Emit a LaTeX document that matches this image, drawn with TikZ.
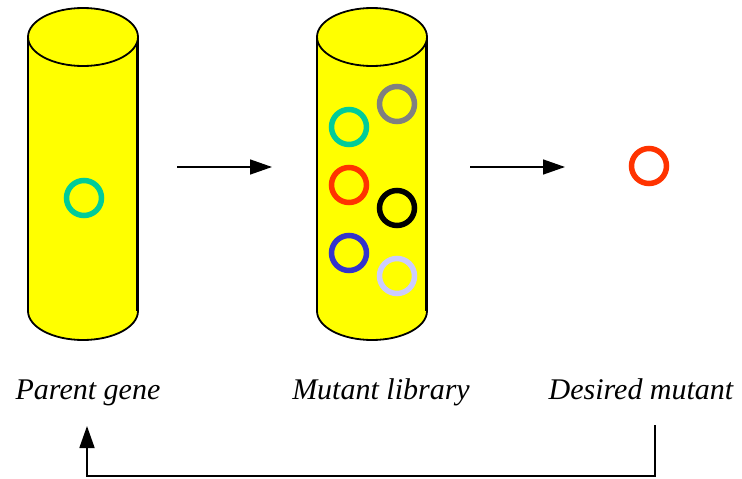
\documentclass[tikz,border=0pt]{standalone}
\usepackage{fontspec}
\setmainfont{Liberation Serif}
\usetikzlibrary{arrows.meta}
\definecolor{cyl}{HTML}{FFFF00}
\definecolor{cteal}{HTML}{00CC99}
\definecolor{cgray}{HTML}{808080}
\definecolor{cred}{HTML}{FF3300}
\definecolor{cblue}{HTML}{3333CC}
\definecolor{clav}{HTML}{CCCCFF}
\tikzset{
  ring/.style={circle, draw=#1, line width=5.5pt, minimum size=35pt, inner sep=0pt},
  lbl/.style={font=\itshape\fontsize{30}{30}\selectfont, anchor=base, inner sep=0pt},
  flow/.style={line width=1.5pt, -{Triangle[length=22pt,width=15pt]}},
  loop/.style={line width=1.8pt, -{Triangle[length=22pt,width=15pt]}},
  cylfill/.style={fill=cyl},
  cylline/.style={line width=1.8pt, draw=black},
}
\newcommand{\mycyl}[1]{%
  \path[cylfill] (#1-55,37) -- (#1-55,311) arc (180:360:55pt and 29pt) -- (#1+55,37) -- cycle;
  \draw[cylline] (#1-55,37) -- (#1-55,311) arc (180:360:55pt and 29pt);
  \draw[line width=3pt] (#1+54,37) -- (#1+54,311);
  \draw[cylline, fill=cyl] (#1,37) ellipse (55pt and 29pt);
}
\begin{document}
\begin{tikzpicture}[x=1pt,y=-1pt]
\useasboundingbox (0,0) rectangle (742,479);
\mycyl{83}
\mycyl{372}
\node[ring=cteal] (p1) at (84,198) {};
\node[ring=cgray] (m1) at (397,104) {};
\node[ring=cteal] (m2) at (349,127) {};
\node[ring=cred] (m3) at (349,185) {};
\node[ring=black] (m4) at (397,208) {};
\node[ring=cblue] (m5) at (349,253) {};
\node[ring=clav] (m6) at (397,276) {};
\node[ring=cred] (d1) at (649,166) {};
\coordinate (a1s) at (177,167);
\coordinate (a1e) at (272,167);
\coordinate (a2s) at (470,167);
\coordinate (a2e) at (565,167);
\draw[flow] (a1s) -- (a1e);
\draw[flow] (a2s) -- (a2e);
\node[lbl] (lp) at (88,399) {Parent gene};
\node[lbl] (lm) at (381,399) {Mutant library};
\node[lbl] (ld) at (641,399) {Desired mutant};
\coordinate (fs) at (655,425);
\coordinate (fc1) at (655,476);
\coordinate (fc2) at (87,476);
\coordinate (fe) at (87,426);
\draw[loop] (fs) -- (fc1) -- (fc2) -- (fe);
\end{tikzpicture}
\end{document}
